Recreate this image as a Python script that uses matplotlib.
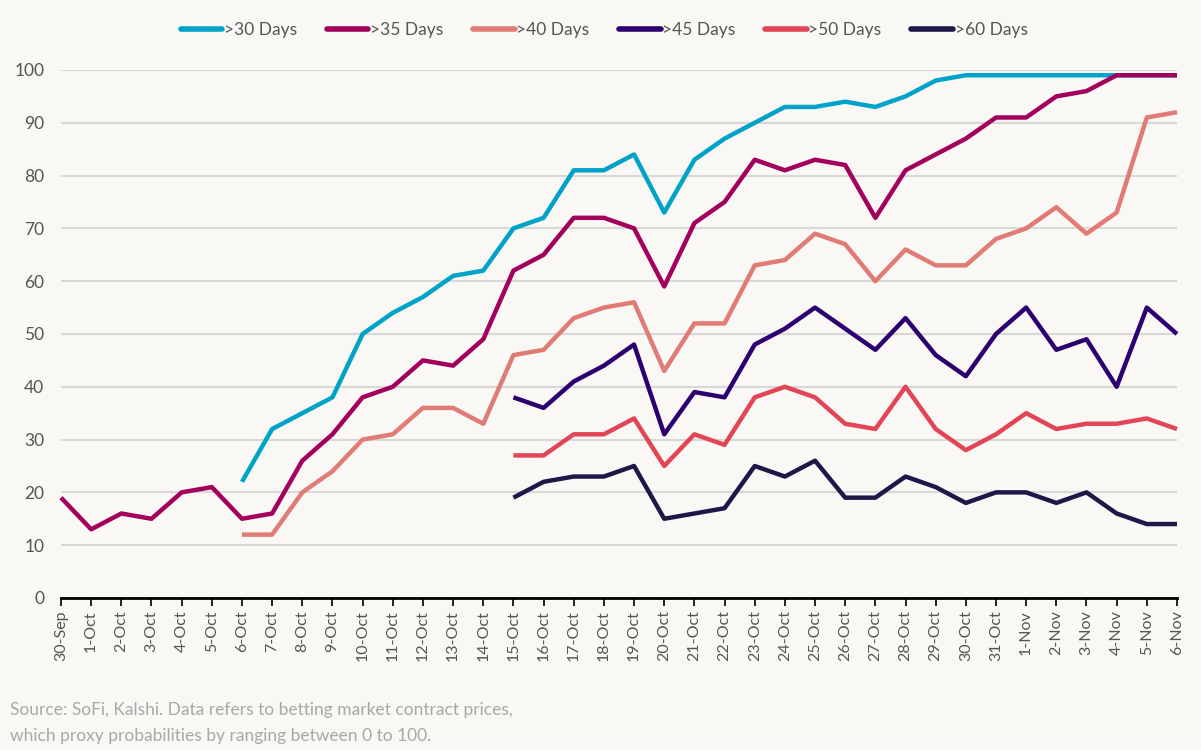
import numpy as np
import matplotlib.pyplot as plt

plt.rcParams['font.family'] = ['Lato', 'DejaVu Sans']

dates = ['30-Sep', '1-Oct', '2-Oct', '3-Oct', '4-Oct', '5-Oct', '6-Oct', '7-Oct', '8-Oct',
         '9-Oct', '10-Oct', '11-Oct', '12-Oct', '13-Oct', '14-Oct', '15-Oct', '16-Oct',
         '17-Oct', '18-Oct', '19-Oct', '20-Oct', '21-Oct', '22-Oct', '23-Oct', '24-Oct',
         '25-Oct', '26-Oct', '27-Oct', '28-Oct', '29-Oct', '30-Oct', '31-Oct', '1-Nov',
         '2-Nov', '3-Nov', '4-Nov', '5-Nov', '6-Nov']

nan = np.nan
# values start at 6-Oct
d30 = [nan]*6 + [22, 32, 35, 38, 50, 54, 57, 61, 62, 70, 72, 81, 81, 84, 73, 83, 87, 90,
                 93, 93, 94, 93, 95, 98, 99, 99, 99, 99, 99, 99, 99, 99]
d35 = [19, 13, 16, 15, 20, 21, 15, 16, 26, 31, 38, 40, 45, 44, 49, 62, 65, 72, 72, 70, 59,
       71, 75, 83, 81, 83, 82, 72, 81, 84, 87, 91, 91, 95, 96, 99, 99, 99]
d40 = [nan]*6 + [12, 12, 20, 24, 30, 31, 36, 36, 33, 46, 47, 53, 55, 56, 43, 52, 52, 63,
                 64, 69, 67, 60, 66, 63, 63, 68, 70, 74, 69, 73, 91, 92]
# values start at 15-Oct
d45 = [nan]*15 + [38, 36, 41, 44, 48, 31, 39, 38, 48, 51, 55, 51, 47, 53, 46, 42, 50, 55,
                  47, 49, 40, 55, 50]
d50 = [nan]*15 + [27, 27, 31, 31, 34, 25, 31, 29, 38, 40, 38, 33, 32, 40, 32, 28, 31, 35,
                  32, 33, 33, 34, 32]
d60 = [nan]*15 + [19, 22, 23, 23, 25, 15, 16, 17, 25, 23, 26, 19, 19, 23, 21, 18, 20, 20,
                  18, 20, 16, 14, 14]

series = [('>30 Days', d30, '#00A3C8'),
          ('>35 Days', d35, '#A3005E'),
          ('>40 Days', d40, '#E07B75'),
          ('>45 Days', d45, '#2D0070'),
          ('>50 Days', d50, '#E14556'),
          ('>60 Days', d60, '#1E1747')]

bg = '#F9F8F5'
fig = plt.figure(figsize=(12.01, 7.5), dpi=100, facecolor=bg)
ax = fig.add_axes([0.0508, 0.2027, 0.9292, 0.704], facecolor=bg)

x = np.arange(len(dates))
for name, vals, col in series:
    ax.plot(x, vals, color=col, lw=3.2, label=name, solid_capstyle='butt', clip_on=False)

ax.set_xlim(0, len(dates) - 1)
ax.set_ylim(0, 100)
ax.set_yticks(range(0, 101, 10))
ax.yaxis.grid(True, color='#D8D8D8', lw=1.5)
ax.set_axisbelow(True)
ax.set_xticks(x)
ax.set_xticklabels(dates, rotation=90, fontsize=11.5, color='#555555')
ax.tick_params(axis='y', length=0, labelsize=12.5, labelcolor='#555555', pad=12)
ax.tick_params(axis='x', length=6, width=1.2, color='black', pad=3)
for s in ['left', 'right', 'top']:
    ax.spines[s].set_visible(False)
ax.spines['bottom'].set_linewidth(2)
ax.spines['bottom'].set_color('black')

leg = fig.legend(loc='center', bbox_to_anchor=(0.503, 0.96), ncol=6, frameon=False,
                 fontsize=12.5, handlelength=2.4, handletextpad=0.1, columnspacing=1.7)
for t in leg.get_texts():
    t.set_color('#555555')
for l in leg.get_lines():
    l.set_linewidth(4)
    l.set_solid_capstyle('round')

fig.text(0.008, 0.053, 'Source: SoFi, Kalshi. Data refers to betting market contract prices,',
         fontsize=12.5, color='#A8A8A8', va='center')
fig.text(0.008, 0.018, 'which proxy probabilities by ranging between 0 to 100.',
         fontsize=12.5, color='#A8A8A8', va='center')

fig.savefig('out.png', dpi=100, facecolor=bg)
